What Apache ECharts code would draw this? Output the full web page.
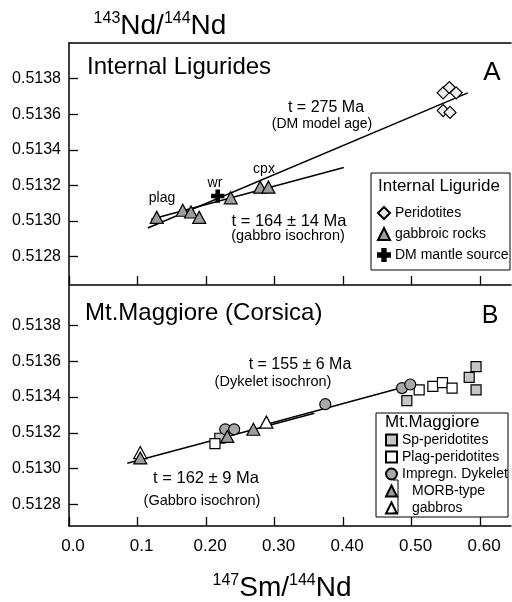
<!DOCTYPE html>
<html>
<head>
<meta charset="utf-8">
<script src="https://cdn.jsdelivr.net/npm/echarts@6/dist/echarts.min.js"></script>
<style>html,body{margin:0;padding:0;background:#fff;}#c{width:512px;height:602px;}</style>
</head>
<body>
<div id="c"></div>
<script>
// ---- tick values / labels ----
const xTicks = [0, 0.1, 0.2, 0.3, 0.4, 0.5, 0.6];
const xTickLabels = ['0.0', '0.1', '0.20', '0.30', '0.40', '0.50', '0.60'];
const yTicks = [0.5128, 0.5130, 0.5132, 0.5134, 0.5136, 0.5138];
const yTickLabels = ['0.5128', '0.5130', '0.5132', '0.5134', '0.5136', '0.5138'];

// ---- Panel A: Internal Ligurides ----
const aPeridotites = [[0.546, 0.51372], [0.555, 0.51375], [0.565, 0.51372], [0.546, 0.51362], [0.556, 0.51361]];
const aGabbroic = [[0.128, 0.51302], [0.166, 0.51306], [0.178, 0.51305], [0.190, 0.51302], [0.236, 0.51313], [0.279, 0.51319], [0.291, 0.51319]];
const aDMSource = [[0.217, 0.51314]];
const aModelAgeLine = [[0.115, 0.51296], [0.582, 0.51372]];
const aGabbroIsochron = [[0.120, 0.51301], [0.401, 0.51330]];

// ---- Panel B: Mt. Maggiore ----
const bSpPeridotites = [[0.493, 0.51338], [0.594, 0.51357], [0.584, 0.51351], [0.594, 0.51344], [0.220, 0.51317]];
const bPlagPeridotites = [[0.511, 0.51344], [0.531, 0.51346], [0.545, 0.51348], [0.559, 0.51345], [0.213, 0.51314]];
const bDykelet = [[0.486, 0.51345], [0.498, 0.51347], [0.374, 0.51336], [0.228, 0.51322], [0.241, 0.51322]];
const bGabbroFilled = [[0.104, 0.51306], [0.231, 0.51318], [0.269, 0.51322]];
const bGabbroOpen = [[0.104, 0.51309], [0.288, 0.51326]];
const bGabbroIsochron = [[0.085, 0.51303], [0.358, 0.51331]];
const bDykeletIsochron = [[0.290, 0.51325], [0.493, 0.51346]];

const FONT = 'Liberation Sans, Arial, sans-serif';
const crossPath = 'path://M3.6,0H6.4V3.6H10V6.4H6.4V10H3.6V6.4H0V3.6H3.6Z';

function lookup(ticks, labels) {
  return function (v) {
    const i = ticks.findIndex(t => Math.abs(t - v) < 1e-7);
    return i >= 0 ? labels[i] : '';
  };
}
const axisLineStyle = { show: true, lineStyle: { color: '#000', width: 1.5 } };

function xAxisBottom(grid, withLabels) {
  return {
    type: 'value', gridIndex: grid, min: 0, max: 0.645, position: 'bottom',
    axisLine: axisLineStyle,
    axisTick: { show: true, inside: true, length: 9, customValues: xTicks, lineStyle: { color: '#000', width: 1.3 } },
    axisLabel: withLabels ? { show: true, customValues: xTicks, formatter: lookup(xTicks, xTickLabels), fontSize: 17, fontFamily: FONT, color: '#000', margin: 12, padding: [0, 0, 0, 8] } : { show: false },
    splitLine: { show: false }
  };
}
function yAxisLeft(grid, min, max) {
  return {
    type: 'value', gridIndex: grid, min: min, max: max,
    axisLine: axisLineStyle,
    axisTick: { show: true, inside: true, length: 9, customValues: yTicks, lineStyle: { color: '#000', width: 1.3 } },
    axisLabel: { show: true, customValues: yTicks, formatter: lookup(yTicks, yTickLabels), fontSize: 16, fontFamily: FONT, color: '#000', margin: 8 },
    splitLine: { show: false }
  };
}
function fitLine(name, data, xi, yi) {
  return { name: name, type: 'line', xAxisIndex: xi, yAxisIndex: yi, data: data, showSymbol: false, symbol: 'none',
    lineStyle: { color: '#000', width: 1.5 }, silent: true, z: 1 };
}
function scatter(name, data, xi, yi, symbol, size, fill, z) {
  return { name: name, type: 'scatter', xAxisIndex: xi, yAxisIndex: yi, data: data, symbol: symbol, symbolSize: size,
    itemStyle: { color: fill, borderColor: '#000', borderWidth: 1.2, opacity: 1 }, z: z || 3, silent: true };
}
function txt(x, y, text, size, align) {
  return { type: 'text', x: x, y: y, z: 10, style: { text: text, fontSize: size, fontFamily: FONT, fill: '#000', align: align || 'center', verticalAlign: 'middle' } };
}

const chart = echarts.init(document.getElementById('c'), null, { renderer: 'canvas' });
const option = {
  animation: false,
  backgroundColor: '#fff',
  grid: [
    { left: 69, top: 43, width: 442, height: 242 },
    { left: 69, top: 286, width: 442, height: 240 }
  ],
  xAxis: [
    xAxisBottom(0, false),
    { type: 'value', gridIndex: 0, min: 0, max: 0.645, position: 'top', axisLine: axisLineStyle, axisTick: { show: false }, axisLabel: { show: false }, splitLine: { show: false } },
    xAxisBottom(1, true)
  ],
  yAxis: [
    yAxisLeft(0, 0.51264, 0.51400),
    yAxisLeft(1, 0.51268, 0.51402)
  ],
  legend: [
    {
      left: 377, top: 206, padding: 0, orient: 'vertical', itemWidth: 12, itemHeight: 12, itemGap: 7, selectedMode: false,
      textStyle: { fontSize: 14, fontFamily: FONT, color: '#000' },
      data: ['Peridotites', 'gabbroic rocks', 'DM mantle source']
    },
    {
      left: 385, top: 433, padding: 0, orient: 'vertical', itemWidth: 11, itemHeight: 11, itemGap: 3, selectedMode: false,
      textStyle: { fontSize: 14, fontFamily: FONT, color: '#000' },
      data: ['Sp-peridotites', 'Plag-peridotites', 'Impregn. Dykelet',
        { name: 'MORB-type', textStyle: { padding: [0, 0, 0, 10] } },
        { name: 'gabbros', textStyle: { padding: [0, 0, 0, 10] } }]
    }
  ],
  series: [
    fitLine('DM model age', aModelAgeLine, 0, 0),
    fitLine('gabbro isochron A', aGabbroIsochron, 0, 0),
    scatter('Peridotites', aPeridotites, 0, 0, 'diamond', 12, '#ededed'),
    scatter('gabbroic rocks', aGabbroic, 0, 0, 'triangle', [13, 12], '#9c9c9c'),
    scatter('DM mantle source', aDMSource, 0, 0, crossPath, 12, '#000', 4),
    fitLine('Gabbro isochron B', bGabbroIsochron, 2, 1),
    fitLine('Dykelet isochron', bDykeletIsochron, 2, 1),
    scatter('Sp-peridotites', bSpPeridotites, 2, 1, 'rect', 10, '#c6c6c6'),
    scatter('Plag-peridotites', bPlagPeridotites, 2, 1, 'rect', 10, '#ffffff'),
    scatter('Impregn. Dykelet', bDykelet, 2, 1, 'circle', 11, '#a8a8a8'),
    scatter('MORB-type', bGabbroFilled, 2, 1, 'triangle', [13, 12], '#9c9c9c'),
    scatter('gabbros', bGabbroOpen, 2, 1, 'triangle', [13, 12], '#ffffff', 2)
  ],
  graphic: [
    { type: 'text', x: 160, y: 26, z: 10, style: { text: '{s|143}{b|Nd/}{s|144}{b|Nd}', align: 'center', verticalAlign: 'middle', fill: '#000',
      rich: { b: { fontSize: 28, lineHeight: 30, fontFamily: FONT }, s: { fontSize: 16, lineHeight: 16, fontFamily: FONT, verticalAlign: 'top' } } } },
    { type: 'text', x: 282, y: 588, z: 10, style: { text: '{s|147}{b|Sm/}{s|144}{b|Nd}', align: 'center', verticalAlign: 'middle', fill: '#000',
      rich: { b: { fontSize: 28, lineHeight: 30, fontFamily: FONT }, s: { fontSize: 16, lineHeight: 16, fontFamily: FONT, verticalAlign: 'top' } } } },
    txt(87, 67, 'Internal Ligurides', 24, 'left'),
    txt(492, 73, 'A', 26),
    txt(85, 313, 'Mt.Maggiore (Corsica)', 24, 'left'),
    txt(490, 316, 'B', 25),
    txt(326, 108, 't = 275 Ma', 16),
    txt(322, 124, '(DM model age)', 14),
    txt(264, 169, 'cpx', 14),
    txt(215, 183, 'wr', 14),
    txt(162, 198, 'plag', 14),
    txt(289, 221, 't = 164 ± 14 Ma', 16.5),
    txt(288, 236, '(gabbro isochron)', 14.5),
    txt(300, 365, 't = 155 ± 6 Ma', 16),
    txt(273, 382, '(Dykelet isochron)', 14.5),
    txt(206, 478, 't = 162 ± 9 Ma', 16.5),
    txt(202, 501, '(Gabbro isochron)', 14.5),
    // legend boxes and headings
    { type: 'rect', z: 5, shape: { x: 371, y: 173, width: 139, height: 97 }, style: { fill: 'rgba(255,255,255,0)', stroke: '#000', lineWidth: 1 } },
    txt(378, 186, 'Internal Liguride', 17, 'left'),
    { type: 'rect', z: 5, shape: { x: 376, y: 413, width: 132, height: 104 }, style: { fill: 'rgba(255,255,255,0)', stroke: '#000', lineWidth: 1 } },
    txt(385, 422, 'Mt.Maggiore', 17, 'left'),
    { type: 'polyline', z: 6, shape: { points: [[393, 480], [398, 480], [398, 513], [393, 513]] }, style: { stroke: '#000', lineWidth: 1, fill: null } }
  ]
};
chart.setOption(option);
</script>
</body>
</html>
